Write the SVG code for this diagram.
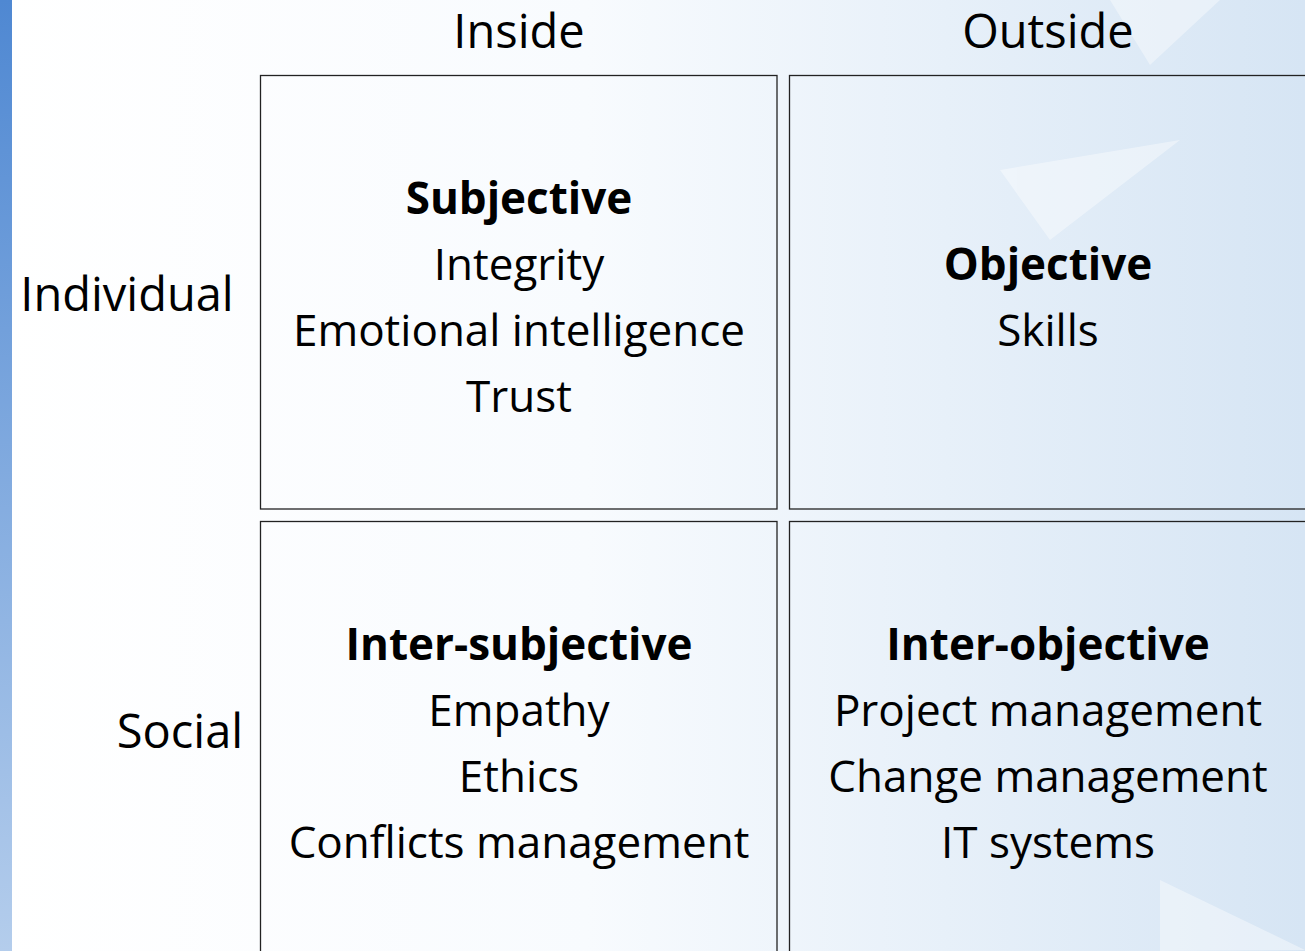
<svg xmlns="http://www.w3.org/2000/svg" width="1305" height="951" viewBox="0 0 1305 951">
<style>
.t{font-family:"Open Sans","Noto Sans","Liberation Sans",sans-serif;font-size:44px;fill:#000;text-anchor:middle}
.h{font-size:47px}
.b{font-weight:bold}
.box{fill:none;stroke:#222;stroke-width:1.3}
</style>
<defs>
<linearGradient id="bg" x1="0" y1="0" x2="1" y2="0">
<stop offset="0" stop-color="#ffffff"/>
<stop offset="0.45" stop-color="#f8fbfe"/>
<stop offset="1" stop-color="#d6e5f4"/>
</linearGradient>
<linearGradient id="strip" x1="0" y1="0" x2="0" y2="1">
<stop offset="0" stop-color="#4f88d2"/>
<stop offset="1" stop-color="#b4cdec"/>
</linearGradient>
</defs>
<rect width="1305" height="951" fill="url(#bg)"/>
<g opacity="0.4" fill="#ffffff">
<polygon points="1110,0 1220,0 1150,65"/>
<polygon points="1000,170 1180,140 1050,240"/>
<polygon points="1160,880 1305,950 1160,951"/>
</g>
<rect x="0" y="0" width="12" height="951" fill="url(#strip)"/>
<g id="header-inside"><text class="t h" x="519" y="48">Inside</text></g>
<g id="header-outside"><text class="t h" x="1048" y="48">Outside</text></g>
<g id="row-individual"><text class="t h" x="127" y="311">Individual</text></g>
<g id="row-social"><text class="t h" x="180" y="748">Social</text></g>
<g id="subjective">
<rect class="box" x="260.5" y="75.5" width="516.5" height="433.5"/>
<text class="t b" x="519" y="214">Subjective</text>
<text class="t" x="519" y="280">Integrity</text>
<text class="t" x="519" y="346">Emotional intelligence</text>
<text class="t" x="519" y="412">Trust</text>
</g>
<g id="objective">
<rect class="box" x="789.5" y="75.5" width="520" height="433.5"/>
<text class="t b" x="1048" y="280">Objective</text>
<text class="t" x="1048" y="346">Skills</text>
</g>
<g id="inter-subjective">
<rect class="box" x="260.5" y="521.5" width="516.5" height="440"/>
<text class="t b" x="519" y="660">Inter-subjective</text>
<text class="t" x="519" y="726">Empathy</text>
<text class="t" x="519" y="792">Ethics</text>
<text class="t" x="519" y="858">Conflicts management</text>
</g>
<g id="inter-objective">
<rect class="box" x="789.5" y="521.5" width="520" height="440"/>
<text class="t b" x="1048" y="660">Inter-objective</text>
<text class="t" x="1048" y="726">Project management</text>
<text class="t" x="1048" y="792">Change management</text>
<text class="t" x="1048" y="858">IT systems</text>
</g>
<g id="connectors"/>
</svg>
